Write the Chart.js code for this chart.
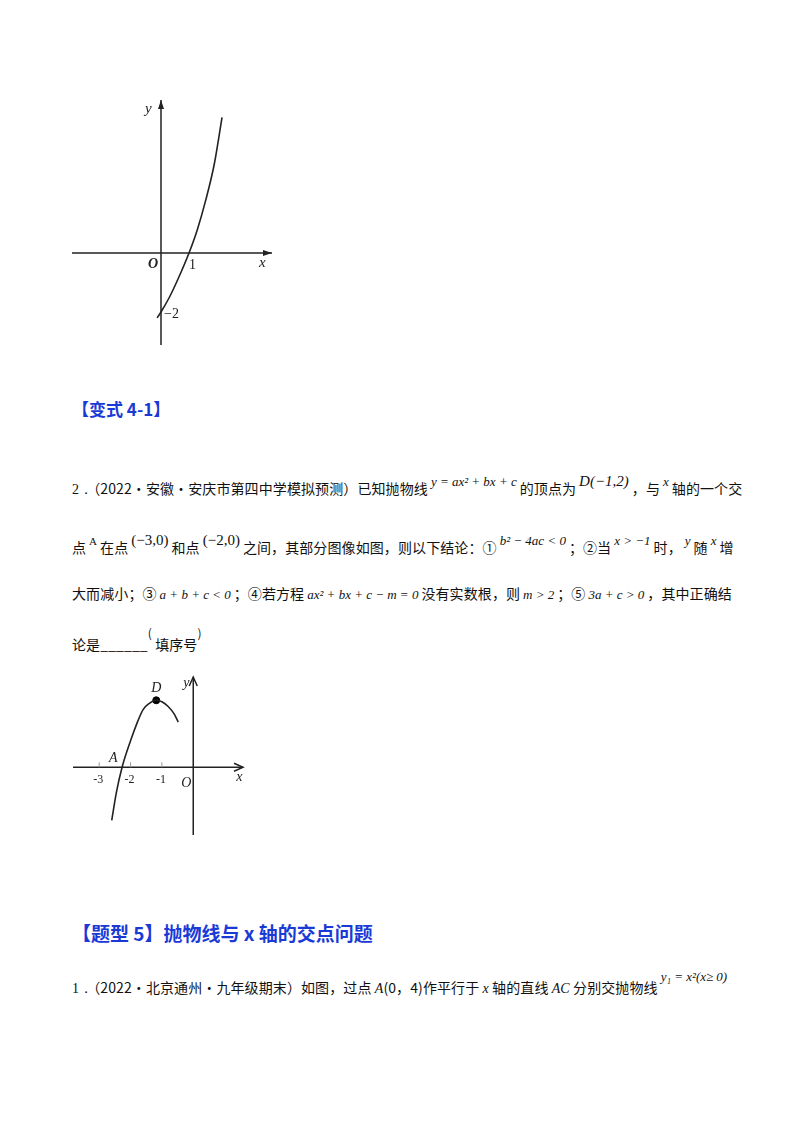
<!DOCTYPE html>
<html><head><meta charset="utf-8">
<script src="https://cdn.jsdelivr.net/npm/chart.js@4/dist/chart.umd.min.js"></script>
<style>
body{margin:0;width:800px;height:1132px;background:#fff;position:relative;font-family:"Noto Sans CJK SC","Liberation Serif",serif;color:#111;overflow:hidden}
.l{position:absolute;left:72px;font-size:14px;white-space:nowrap;letter-spacing:0.1px}
.m{font-family:"Liberation Serif",serif;font-style:italic;font-size:13px;position:relative;top:-8px;margin:0 3px;letter-spacing:0}
.n{font-family:"Liberation Serif",serif;font-size:14px}
.h{position:absolute;left:72px;color:#1a3ad6;font-weight:bold;white-space:nowrap}
canvas{position:absolute}
</style></head><body>
<div style="position:absolute;left:60px;top:90px;width:230px;height:270px"><canvas id="c1"></canvas></div>
<div style="position:absolute;left:60px;top:665px;width:200px;height:180px"><canvas id="c2"></canvas></div>
<div class="h" style="top:396px;font-size:17px">【变式 4-1】</div>
<div class="l" style="top:478px"><span class="n">2．</span>（2022·安徽·安庆市第四中学模拟预测）已知抛物线<span class="m">y = ax² + bx + c</span>的顶点为<span class="m" style="font-size:15px">D(−1,2)</span>，与<span class="m">x</span>轴的一个交</div>
<div class="l" style="top:537px">点<span class="m" style="font-style:normal;font-size:11px">A</span>在点<span class="m" style="font-style:normal;font-size:15px">(−3,0)</span>和点<span class="m" style="font-style:normal;font-size:15px">(−2,0)</span>之间，其部分图像如图，则以下结论：①<span class="m">b² − 4ac &lt; 0</span>；②当<span class="m">x &gt; −1</span>时，<span class="m">y</span>随<span class="m">x</span>增</div>
<div class="l" style="top:583px">大而减小；③<span class="m" style="top:0">a + b + c &lt; 0</span>；④若方程<span class="m" style="top:0">ax² + bx + c − m = 0</span>没有实数根，则<span class="m" style="top:0">m &gt; 2</span>；⑤<span class="m" style="top:0">3a + c &gt; 0</span>，其中正确结</div>
<div class="l" style="top:634px">论是______<span style="position:relative;top:-12px;font-size:12px">(</span> 填序号<span style="position:relative;top:-12px;font-size:12px">)</span></div>
<div class="h" style="top:919px;font-size:19px">【题型 5】抛物线与 x 轴的交点问题</div>
<div class="l" style="top:977px"><span class="n">1．</span>（2022·北京通州·九年级期末）如图，过点 <i class="n">A</i>(0，4)作平行于 <i class="n">x</i> 轴的直线 <i class="n">AC</i> 分别交抛物线<span class="m" style="top:-12px">y₁ = x²(x≥ 0)</span></div>
<script>
// Figure 1 data
const curve1X=[-0.14,0,0.3,0.6,1,1.3,1.6,1.9,2.18];
const curve1Y=[-2.2,-2,-1.5,-0.9,0,0.8,1.8,3.0,4.6];
// Figure 2 data
const curve2X=[-2.6,-2.45,-2.27,-2.0,-1.8,-1.6,-1.4,-1.18,-1.0,-0.8,-0.6,-0.48];
const curve2Y=[-1.7,-0.8,0,0.85,1.4,1.85,2.05,2.15,2.1,1.95,1.7,1.45];
const ticks2=[-3,-2,-1];

function axesPlugin(cfg){return {id:'ax',afterDatasetsDraw(ch){
  const c=ch.ctx,x=ch.scales.x,y=ch.scales.y;
  const X=v=>x.getPixelForValue(v),Y=v=>y.getPixelForValue(v);
  c.save();c.strokeStyle='#222';c.fillStyle='#222';c.lineWidth=1.5;
  const ox=X(0),oy=Y(0);
  c.beginPath();c.moveTo(cfg.x0,oy);c.lineTo(cfg.x1,oy);c.moveTo(ox,cfg.y0);c.lineTo(ox,cfg.y1);c.stroke();
  if(cfg.open){c.beginPath();c.moveTo(cfg.x1-9,oy-4);c.lineTo(cfg.x1,oy);c.lineTo(cfg.x1-9,oy+4);
    c.moveTo(ox-4,cfg.y1+9);c.lineTo(ox,cfg.y1);c.lineTo(ox+4,cfg.y1+9);c.stroke();}
  else{c.beginPath();c.moveTo(cfg.x1,oy);c.lineTo(cfg.x1-9,oy-3);c.lineTo(cfg.x1-9,oy+3);c.fill();
    c.beginPath();c.moveTo(ox,cfg.y1);c.lineTo(ox-3,cfg.y1+9);c.lineTo(ox+3,cfg.y1+9);c.fill();}
  cfg.draw(c,X,Y);c.restore();}};}

new Chart(document.getElementById('c1'),{type:'scatter',
 data:{datasets:[{data:curve1X.map((v,i)=>({x:v,y:curve1Y[i]})),showLine:true,cubicInterpolationMode:'monotone',borderColor:'#222',borderWidth:1.6,pointRadius:0}]},
 options:{responsive:true,maintainAspectRatio:false,animation:false,layout:{padding:0},
  plugins:{legend:{display:false},tooltip:{enabled:false}},
  scales:{x:{type:'linear',display:false,min:-3.607,max:4.607},y:{type:'linear',display:false,min:-3.627,max:5.525}}},
 plugins:[axesPlugin({x0:12,x1:212,y0:255,y1:10,open:false,draw(c,X,Y){
  c.font='italic 15px "Liberation Serif"';c.fillText('y',X(0)-16,Y(0)-140);c.fillText('x',X(0)+98,Y(0)+14);
  c.font='italic bold 14px "Liberation Serif"';c.fillText('O',X(0)-13,Y(0)+15);
  c.font='14px "Liberation Serif"';c.fillText('1',X(1),Y(0)+16);c.fillText('−2',X(0)+3,Y(-2)+6);}})]});

new Chart(document.getElementById('c2'),{type:'scatter',
 data:{datasets:[{data:curve2X.map((v,i)=>({x:v,y:curve2Y[i]})),showLine:true,cubicInterpolationMode:'monotone',borderColor:'#222',borderWidth:1.6,pointRadius:0},
  {data:[{x:-1.18,y:2.15}],pointRadius:3.5,pointBackgroundColor:'#000',pointBorderColor:'#000'}]},
 options:{responsive:true,maintainAspectRatio:false,animation:false,layout:{padding:0},
  plugins:{legend:{display:false},tooltip:{enabled:false}},
  scales:{x:{type:'linear',display:false,min:-4.091,max:1.970},y:{type:'linear',display:false,min:-2.333,max:3.121}}},
 plugins:[axesPlugin({x0:13,x1:183,y0:170,y1:12,open:true,draw(c,X,Y){
  c.lineWidth=1;c.strokeStyle='#999';
  ticks2.forEach(t=>{c.beginPath();c.moveTo(X(t),Y(0));c.lineTo(X(t),Y(0)-5);c.stroke();});
  c.font='12px "Liberation Serif"';ticks2.forEach(t=>c.fillText(String(t),X(t)-6,Y(0)+16));
  c.font='italic 14px "Liberation Serif"';c.fillText('O',X(0)-12,Y(0)+20);c.fillText('x',X(0)+43,Y(0)+14);
  c.fillText('y',X(0)-10,Y(0)-80);c.fillText('D',X(-1.18)-5,Y(2.15)-8);c.fillText('A',X(-2.27)-13,Y(0)-5);}})]});
</script>
</body></html>
